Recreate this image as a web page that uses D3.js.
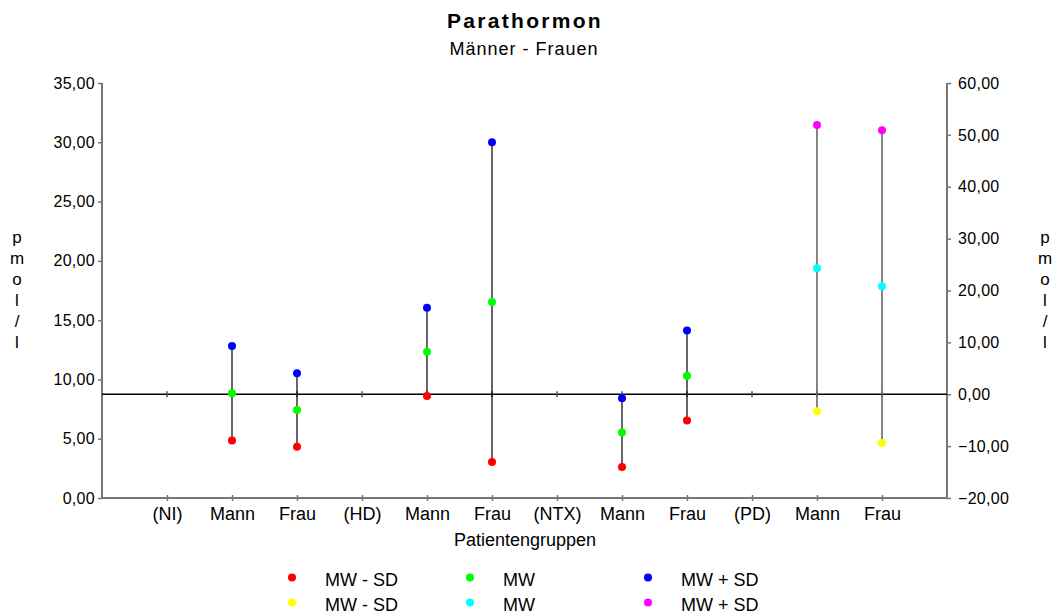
<!DOCTYPE html>
<html>
<head>
<meta charset="utf-8">
<script src="https://cdn.jsdelivr.net/npm/d3@7"></script>
<style>
  body { margin: 0; background: #fff; }
  text { font-family: Arial, "Liberation Sans", sans-serif; fill: #000; }
</style>
</head>
<body>
<div id="chart"></div>
<script>
// categories on the x axis
var categories = ["(NI)", "Mann", "Frau", "(HD)", "Mann", "Frau", "(NTX)", "Mann", "Frau", "(PD)", "Mann", "Frau"];

// left axis series (NI, HD, NTX groups)
var leftIdx = [1, 2, 4, 5, 7, 8];
var leftMinus = [4.85, 4.33, 8.61, 3.04, 2.62, 6.54];
var leftMean  = [8.83, 7.43, 12.33, 16.52, 5.52, 10.30];
var leftPlus  = [12.82, 10.53, 16.05, 30.01, 8.42, 14.13];

// right axis series (PD group)
var rightIdx = [10, 11];
var rightMinus = [-3.3, -9.4];
var rightMean  = [24.3, 20.8];
var rightPlus  = [51.9, 50.9];

var leftTicks = [0, 5, 10, 15, 20, 25, 30, 35];
var rightTicks = [-20, -10, 0, 10, 20, 30, 40, 50, 60];

var width = 1060, height = 614;
var margin = {top: 83, right: 113, bottom: 116, left: 102};
var fmt = function(d) { return d3.format(".2f")(d).replace(".", ","); };

var svg = d3.select("#chart").append("svg")
    .attr("width", width).attr("height", height);

var x = d3.scalePoint()
    .domain(d3.range(categories.length))
    .range([margin.left, width - margin.right])
    .padding(1);
var yL = d3.scaleLinear().domain([0, 35]).range([height - margin.bottom, margin.top]);
var yR = d3.scaleLinear().domain([-20, 60]).range([height - margin.bottom, margin.top]);

// title
svg.append("text").attr("x", 525).attr("y", 28).attr("text-anchor", "middle")
    .style("font-size", "21px").style("font-weight", "bold").style("letter-spacing", "2.3px")
    .attr("fill", "#000").text("Parathormon");
svg.append("text").attr("x", 524).attr("y", 55).attr("text-anchor", "middle")
    .style("font-size", "18px").style("letter-spacing", "1px")
    .attr("fill", "#000").text("Männer - Frauen");

// left axis
var gL = svg.append("g").attr("transform", "translate(" + margin.left + ",0)")
    .call(d3.axisLeft(yL).tickValues(leftTicks).tickFormat(fmt).tickSize(4).tickPadding(3));
// right axis
var gR = svg.append("g").attr("transform", "translate(" + (width - margin.right) + ",0)")
    .call(d3.axisRight(yR).tickValues(rightTicks).tickFormat(fmt).tickSize(4).tickPadding(7));
// bottom axis
var gB = svg.append("g").attr("transform", "translate(0," + (height - margin.bottom) + ")")
    .call(d3.axisBottom(x).tickFormat(function(i) { return categories[i]; }).tickSize(4).tickPadding(5.5));
gB.selectAll(".tick line").attr("y1", -3).attr("y2", 3);

[gL, gR].forEach(function(g) {
  g.selectAll(".tick text").style("font-size", "16px").style("letter-spacing", "0.3px").attr("fill", "#000");
});
gB.selectAll(".tick text").style("font-size", "18px").attr("fill", "#000");
[gL, gR, gB].forEach(function(g) {
  g.select(".domain").attr("stroke", "#777").attr("stroke-width", 2);
  g.selectAll(".tick line").attr("stroke", "#777").attr("stroke-width", 1.5);
});
gB.select(".domain").attr("d", "M" + margin.left + ",0H" + (width - margin.right));
gL.select(".domain").attr("d", "M0," + margin.top + "V" + (height - margin.bottom));
gR.select(".domain").attr("d", "M0," + margin.top + "V" + (height - margin.bottom));

// zero line of right axis
var y0 = yR(0);
svg.append("line").attr("x1", margin.left).attr("x2", width - margin.right)
    .attr("y1", y0).attr("y2", y0).attr("stroke", "#000").attr("stroke-width", 1.3);
svg.selectAll(".zt").data(d3.range(categories.length)).enter().append("line")
    .attr("x1", function(i) { return x(i); }).attr("x2", function(i) { return x(i); })
    .attr("y1", y0 - 3).attr("y2", y0 + 3).attr("stroke", "#555").attr("stroke-width", 1.5);

// axis titles
var unit = ["p", "m", "o", "l", "/", "l"];
[17, 1045].forEach(function(cx) {
  svg.selectAll(null).data(unit).enter().append("text")
      .attr("x", cx).attr("y", function(d, i) { return 243 + i * 21; })
      .attr("text-anchor", "middle").style("font-size", "17px").attr("fill", "#000")
      .text(function(d) { return d; });
});
svg.append("text").attr("x", 525).attr("y", 546).attr("text-anchor", "middle")
    .style("font-size", "18px").attr("fill", "#000").text("Patientengruppen");

// range lines
leftIdx.forEach(function(ci, k) {
  var lo = Math.min(leftMinus[k], leftPlus[k]), hi = Math.max(leftMinus[k], leftPlus[k]);
  svg.append("line").attr("x1", x(ci)).attr("x2", x(ci))
      .attr("y1", yL(lo)).attr("y2", yL(hi)).attr("stroke", "#000").attr("stroke-width", 1.2);
});
rightIdx.forEach(function(ci, k) {
  svg.append("line").attr("x1", x(ci)).attr("x2", x(ci))
      .attr("y1", yR(rightMinus[k])).attr("y2", yR(rightPlus[k])).attr("stroke", "#666").attr("stroke-width", 1.6);
});

function dots(idx, vals, scale, color) {
  svg.selectAll(null).data(vals).enter().append("circle")
      .attr("cx", function(d, k) { return x(idx[k]); })
      .attr("cy", function(d) { return scale(d); })
      .attr("r", 4).attr("fill", color);
}
dots(leftIdx, leftMinus, yL, "#ff0000");
dots(leftIdx, leftMean, yL, "#00ff00");
dots(leftIdx, leftPlus, yL, "#0000ff");
dots(rightIdx, rightMinus, yR, "#ffff00");
dots(rightIdx, rightMean, yR, "#00ffff");
dots(rightIdx, rightPlus, yR, "#ff00ff");

// legend
var legend = [
  {label: "MW - SD", color: "#ff0000"}, {label: "MW", color: "#00ff00"}, {label: "MW + SD", color: "#0000ff"},
  {label: "MW - SD", color: "#ffff00"}, {label: "MW", color: "#00ffff"}, {label: "MW + SD", color: "#ff00ff"}
];
var colX = [292, 470, 648];
var lg = svg.selectAll(".lg").data(legend).enter().append("g")
    .attr("transform", function(d, i) { return "translate(" + colX[i % 3] + "," + (577.5 + Math.floor(i / 3) * 25) + ")"; });
lg.append("circle").attr("r", 4).attr("fill", function(d) { return d.color; });
lg.append("text").attr("x", 33).attr("y", 8.5).style("font-size", "18px").attr("fill", "#000")
    .text(function(d) { return d.label; });
</script>
</body>
</html>
